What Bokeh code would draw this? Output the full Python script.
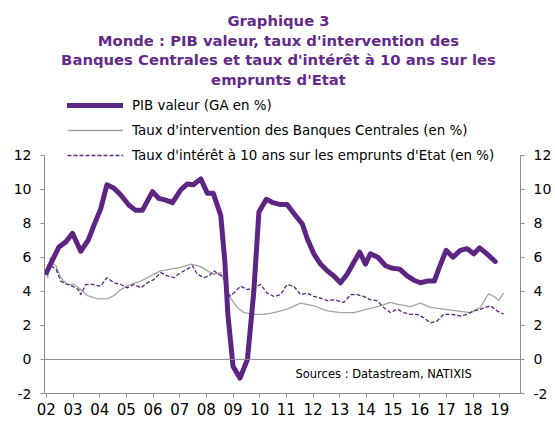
from bokeh.plotting import figure
from bokeh.models import Label, Legend, LegendItem, Span, FixedTicker, LinearAxis, Range1d
from bokeh.embed import file_html
from bokeh.resources import INLINE

# ---- data ----
pib_years = [2002.0, 2002.47, 2002.73, 2002.98, 2003.29, 2003.57, 2003.79, 2004.04, 2004.27, 2004.54,
             2004.79, 2005.1, 2005.35, 2005.6, 2005.98, 2006.22, 2006.48, 2006.73, 2007.04, 2007.29,
             2007.51, 2007.79, 2008.04, 2008.26, 2008.54, 2008.69, 2008.81, 2009.0, 2009.26, 2009.54,
             2009.78, 2009.97, 2010.25, 2010.5, 2010.75, 2011.03, 2011.34, 2011.6, 2011.78, 2012.03,
             2012.28, 2012.53, 2012.78, 2013.03, 2013.28, 2013.53, 2013.75, 2013.97, 2014.15, 2014.43,
             2014.72, 2014.97, 2015.25, 2015.53, 2015.78, 2016.03, 2016.28, 2016.55, 2016.71, 2016.99,
             2017.25, 2017.52, 2017.78, 2018.03, 2018.25, 2018.52, 2018.83]
pib = [5.1, 6.6, 6.9, 7.4, 6.35, 7.0, 7.9, 8.85, 10.25, 10.05,
       9.65, 9.05, 8.75, 8.75, 9.85, 9.45, 9.35, 9.2, 9.95, 10.3,
       10.25, 10.6, 9.75, 9.75, 8.45, 5.8, 2.6, -0.4, -1.1, 0.0,
       4.0, 8.65, 9.4, 9.2, 9.1, 9.1, 8.45, 7.95, 7.1, 6.2,
       5.6, 5.2, 4.9, 4.5, 5.0, 5.7, 6.3, 5.6, 6.2, 6.0,
       5.5, 5.35, 5.3, 4.9, 4.65, 4.5, 4.6, 4.6, 5.3, 6.4,
       6.0, 6.4, 6.5, 6.2, 6.55, 6.2, 5.75]

cb_years = [2002.0, 2002.05, 2002.15, 2002.25, 2002.36, 2002.54, 2002.79, 2003.04, 2003.29, 2003.54,
            2003.92, 2004.29, 2004.54, 2004.79, 2005.16, 2005.54, 2005.91, 2006.29, 2006.66, 2007.04,
            2007.41, 2007.79, 2008.04, 2008.28, 2008.54, 2008.72, 2008.91, 2009.16, 2009.41, 2009.78,
            2010.16, 2010.53, 2011.03, 2011.53, 2012.03, 2012.53, 2013.03, 2013.53, 2014.03, 2014.53,
            2014.9, 2015.15, 2015.65, 2016.03, 2016.4, 2016.9, 2017.4, 2017.9, 2018.27, 2018.58,
            2018.83, 2018.96, 2019.15]
cb_rate = [5.1, 4.8, 6.0, 5.6, 5.5, 4.8, 4.4, 4.4, 4.1, 3.75,
           3.55, 3.55, 3.75, 4.1, 4.4, 4.6, 4.9, 5.2, 5.3, 5.4,
           5.6, 5.45, 5.2, 5.0, 5.1, 4.4, 3.6, 3.05, 2.75, 2.65,
           2.65, 2.75, 2.95, 3.3, 3.15, 2.85, 2.75, 2.75, 2.95, 3.15,
           3.35, 3.25, 3.1, 3.3, 3.05, 2.95, 2.85, 2.75, 3.05, 3.85,
           3.65, 3.45, 3.9]

yld_years = [2002.0, 2002.17, 2002.36, 2002.54, 2002.79, 2002.98, 2003.2, 2003.29, 2003.48, 2003.73,
             2004.04, 2004.27, 2004.54, 2004.79, 2005.04, 2005.29, 2005.54, 2005.79, 2006.04, 2006.29,
             2006.54, 2006.79, 2007.04, 2007.29, 2007.48, 2007.66, 2007.91, 2008.1, 2008.28, 2008.47,
             2008.66, 2008.85, 2009.03, 2009.28, 2009.54, 2009.78, 2010.03, 2010.28, 2010.53, 2010.78,
             2011.03, 2011.28, 2011.53, 2011.78, 2012.03, 2012.28, 2012.53, 2012.78, 2013.15, 2013.41,
             2013.66, 2013.9, 2014.15, 2014.4, 2014.65, 2014.9, 2015.15, 2015.4, 2015.65, 2015.9,
             2016.15, 2016.4, 2016.65, 2016.9, 2017.2, 2017.52, 2017.78, 2018.03, 2018.28, 2018.65,
             2018.9, 2019.15]
yld = [5.3, 5.5, 5.3, 4.6, 4.4, 4.3, 4.1, 3.8, 4.4, 4.4,
       4.3, 4.8, 4.5, 4.4, 4.2, 4.4, 4.2, 4.5, 4.7, 5.1,
       4.9, 4.8, 5.1, 5.3, 5.5, 5.0, 4.8, 4.9, 5.2, 5.0,
       4.8, 3.7, 3.9, 4.3, 4.1, 4.2, 4.4, 3.9, 3.7, 3.8,
       4.4, 4.3, 3.8, 3.9, 3.7, 3.6, 3.45, 3.5, 3.35, 3.8,
       3.8, 3.7, 3.5, 3.45, 3.05, 2.75, 2.95, 2.75, 2.65, 2.65,
       2.45, 2.15, 2.25, 2.65, 2.65, 2.55, 2.65, 2.85, 2.95, 3.15,
       2.85, 2.65]

x_ticks = list(range(2002, 2020))
x_labels = ["02", "03", "04", "05", "06", "07", "08", "09", "10", "11",
            "12", "13", "14", "15", "16", "17", "18", "19"]
y_ticks = [-2, 0, 2, 4, 6, 8, 10, 12]
y_labels = ["-2", "0", "2", "4", "6", "8", "10", "12"]

title_lines = ["Graphique 3",
               "Monde : PIB valeur, taux d'intervention des",
               "Banques Centrales et taux d'intérêt à 10 ans sur les",
               "emprunts d'Etat"]
series_names = ["PIB valeur (GA en %)",
                "Taux d'intervention des Banques Centrales (en %)",
                "Taux d'intérêt à 10 ans sur les emprunts d'Etat (en %)"]
source_text = "Sources : Datastream, NATIXIS"

# ---- styles ----
PURPLE = "#5C2483"
TITLE_PURPLE = "#642A8A"
GREY = "#A3A3A3"
AXIS_GREY = "#8C8C8C"
FONT = "DejaVu Sans"

# frame: left 44px, right 520px, bottom 393px; the frame reaches the top of the canvas so that
# title and legend (drawn inside it) are not clipped; axes are bounded to -2..12.
FRAME_H = 393
PX_PER_UNIT = (393 - 154.5) / 14.0
y_top = -2 + FRAME_H / PX_PER_UNIT

p = figure(width=555, height=422, output_backend="svg", toolbar_location=None, title=None,
           x_range=Range1d(2001.93, 2019.78), y_range=Range1d(-2, y_top),
           min_border_left=44, min_border_right=35, min_border_top=0, min_border_bottom=29)
p.outline_line_color = None
p.grid.visible = False
p.background_fill_color = "white"
p.border_fill_color = "white"

# axes
xa = p.xaxis[0]
xa.ticker = FixedTicker(ticks=x_ticks)
xa.major_label_overrides = {t: l for t, l in zip(x_ticks, x_labels)}
xa.minor_tick_line_color = None
xa.major_tick_in = 0
xa.major_tick_out = 4
xa.major_label_standoff = 5
xa.axis_line_color = AXIS_GREY
xa.major_tick_line_color = AXIS_GREY
xa.major_label_text_font = FONT
xa.major_label_text_font_size = "15px"
xa.major_label_text_color = "black"


def style_y(ax):
    ax.ticker = FixedTicker(ticks=y_ticks)
    ax.major_label_overrides = {t: l for t, l in zip(y_ticks, y_labels)}
    ax.bounds = (-2, 12)
    ax.minor_tick_line_color = None
    ax.major_tick_in = 0
    ax.major_tick_out = 4
    ax.major_label_standoff = 9
    ax.axis_line_color = AXIS_GREY
    ax.major_tick_line_color = AXIS_GREY
    ax.major_label_text_font = FONT
    ax.major_label_text_font_size = "14px"
    ax.major_label_text_color = "black"


style_y(p.yaxis[0])
yr = LinearAxis()
style_y(yr)
p.add_layout(yr, "right")

p.add_layout(Span(location=0, dimension="width", line_color=AXIS_GREY, line_width=1))

r_cb = p.line(cb_years, cb_rate, line_color=GREY, line_width=1.3)
r_yld = p.line(yld_years, yld, line_color=PURPLE, line_width=1.3, line_dash="4 2")
r_pib = p.line(pib_years, pib, line_color=PURPLE, line_width=5, line_join="round", line_cap="round")

legend = Legend(items=[LegendItem(label=series_names[0], renderers=[r_pib]),
                       LegendItem(label=series_names[1], renderers=[r_cb]),
                       LegendItem(label=series_names[2], renderers=[r_yld])],
                location=(23, 228), orientation="vertical",
                background_fill_alpha=0, border_line_color=None,
                padding=0, margin=0, spacing=5, glyph_width=56, glyph_height=20,
                label_height=20, label_standoff=9,
                label_text_font=FONT, label_text_font_size="13.4px", label_text_color="black")
p.add_layout(legend)

# title lines (screen units, measured from the frame's bottom-left corner)
title_y = [373, 353.5, 334, 314.5]
for txt, ty in zip(title_lines, title_y):
    p.add_layout(Label(x=234, y=ty, x_units="screen", y_units="screen", text=txt,
                       text_align="center", text_baseline="middle",
                       text_font=FONT, text_font_style="bold", text_font_size="14.8px",
                       text_color=TITLE_PURPLE))

p.add_layout(Label(x=251, y=20, x_units="screen", y_units="screen", text=source_text,
                   text_align="left", text_baseline="middle",
                   text_font=FONT, text_font_size="11.5px", text_color="black"))

open("out.html", "w").write(file_html(p, INLINE))
